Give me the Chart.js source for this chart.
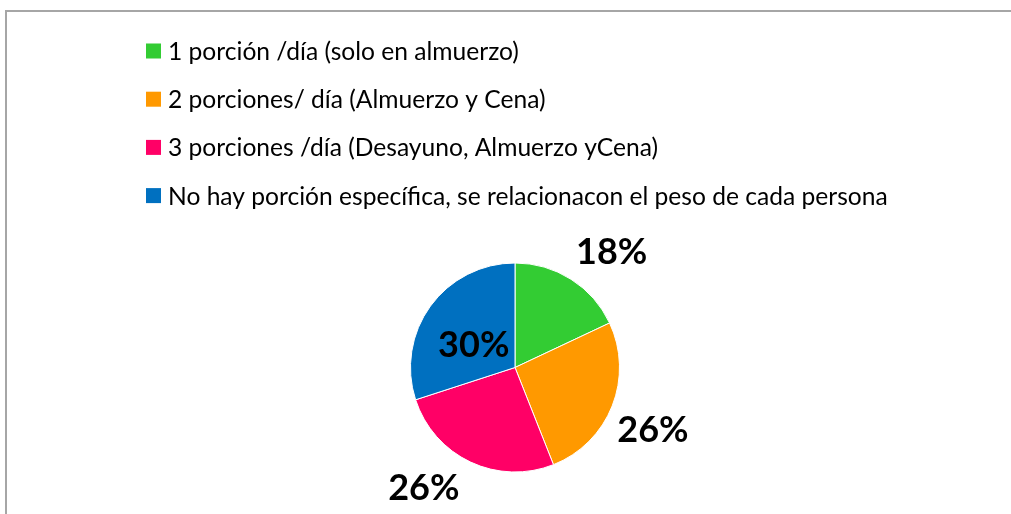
<!DOCTYPE html>
<html>
<head>
<meta charset="utf-8">
<script src="https://cdn.jsdelivr.net/npm/chart.js@4/dist/chart.umd.min.js"></script>
<style>
  html, body { margin: 0; padding: 0; background: #ffffff; }
  #wrap { position: relative; width: 1011px; height: 514px; }
  #frame { position: absolute; left: 5px; top: 10px; width: 1020px; height: 520px;
           border-left: 2px solid #a6a6a6; border-top: 2px solid #a6a6a6; box-sizing: border-box; }
  canvas { position: absolute; left: 0; top: 0; }
</style>
</head>
<body>
<div id="wrap">
  <div id="frame"></div>
  <canvas id="c" width="1011" height="514"></canvas>
</div>
<script>
const categories = [
  "1 porción /día (solo en almuerzo)",
  "2 porciones/ día (Almuerzo y Cena)",
  "3 porciones /día (Desayuno, Almuerzo yCena)",
  "No hay porción específica, se relacionacon el peso de cada persona"
];
const percentages = [18, 26, 26, 30];
const sliceColors = ["#33CC33", "#FF9900", "#FF0066", "#0070C0"];

const legendPlugin = {
  id: 'sideLegend',
  afterDraw(chart, args, opts) {
    const ctx = chart.ctx;
    const ds = chart.data.datasets[0];
    ctx.save();
    ctx.font = opts.font;
    ctx.textBaseline = 'middle';
    ctx.textAlign = 'left';
    chart.data.labels.forEach((lab, i) => {
      const cy = opts.top + i * opts.pitch;
      ctx.fillStyle = ds.backgroundColor[i];
      ctx.fillRect(opts.left, cy - opts.box / 2, opts.box, opts.box);
      ctx.fillStyle = opts.color;
      ctx.fillText(lab, opts.left + opts.box + opts.gap, cy + opts.textShift);
    });
    ctx.restore();
  }
};

const valueLabelPlugin = {
  id: 'valueLabels',
  afterDatasetsDraw(chart, args, opts) {
    const ctx = chart.ctx;
    const meta = chart.getDatasetMeta(0);
    ctx.save();
    ctx.font = opts.font;
    ctx.fillStyle = opts.color;
    ctx.textAlign = 'center';
    ctx.textBaseline = 'middle';
    meta.data.forEach((arc, i) => {
      const p = arc.getProps(['x', 'y', 'startAngle', 'endAngle', 'outerRadius'], true);
      const mid = (p.startAngle + p.endAngle) / 2 + (opts.nudgeDeg[i] || 0) * Math.PI / 180;
      const r = p.outerRadius * opts.radiusFactor[i];
      const x = p.x + Math.cos(mid) * r;
      const y = p.y + Math.sin(mid) * r;
      ctx.fillText(chart.data.datasets[0].data[i] + '%', x, y);
    });
    ctx.restore();
  }
};

new Chart(document.getElementById('c'), {
  type: 'pie',
  data: {
    labels: categories,
    datasets: [{
      data: percentages,
      backgroundColor: sliceColors,
      borderColor: '#ffffff',
      borderWidth: 1,
      hoverOffset: 0
    }]
  },
  options: {
    responsive: false,
    animation: false,
    events: [],
    layout: { padding: { top: 262, bottom: 41, left: 410, right: 391 } },
    plugins: {
      legend: { display: false },
      tooltip: { enabled: false },
      sideLegend: {
        left: 146, top: 51, pitch: 48.2, box: 15, gap: 7, textShift: 1,
        font: '24.6px Lato', color: '#000000'
      },
      valueLabels: {
        font: 'bold 36px Lato', color: '#000000',
        radiusFactor: [1.44, 1.45, 1.45, 0.45],
        nudgeDeg: [7.6, 2.8, 11.8, -7.3]
      }
    }
  },
  plugins: [legendPlugin, valueLabelPlugin]
});
</script>
</body>
</html>
